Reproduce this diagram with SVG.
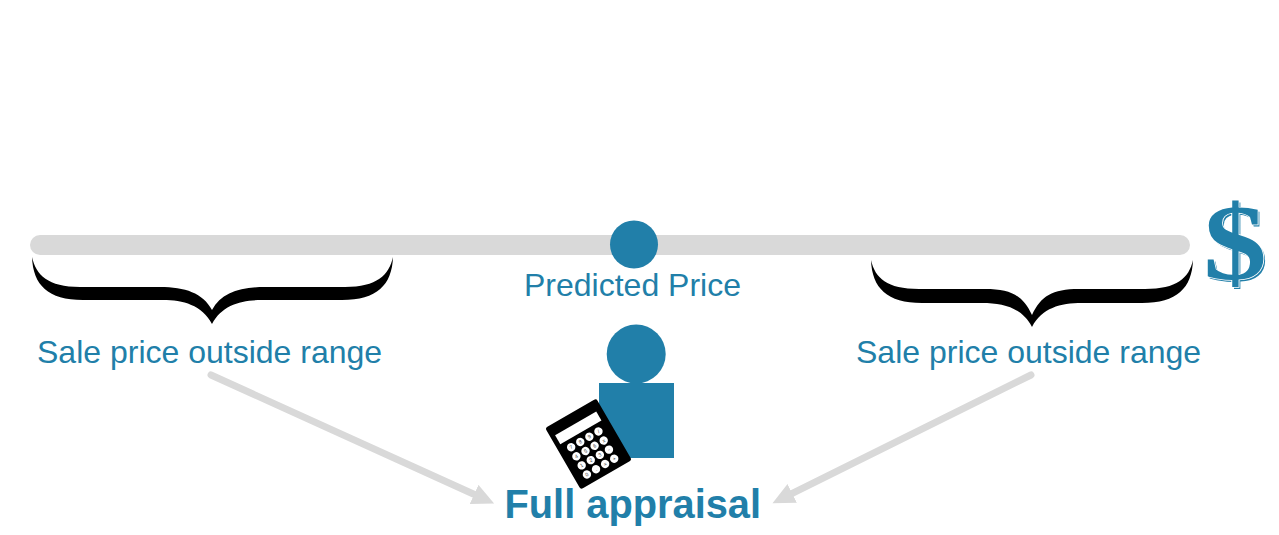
<svg xmlns="http://www.w3.org/2000/svg" width="1279" height="535" viewBox="0 0 1279 535">
<style>
.t{font-family:"Liberation Sans",Arial,sans-serif;font-size:32px;fill:#217fa9}
.b{font-family:"Liberation Sans",Arial,sans-serif;font-size:39.800px;font-weight:700;fill:#217fa9}
.k{fill:#fff}
.d{font-family:"Liberation Sans",Arial,sans-serif;font-size:5px;fill:#333;text-anchor:middle}
.c{fill:none;stroke:#d9d9d9;stroke-width:7;stroke-linecap:round}
.s{font-family:"Liberation Serif",serif;font-size:108px;font-weight:700;text-anchor:middle}
</style>
<defs>
<marker id="ah" markerUnits="userSpaceOnUse" markerWidth="23" markerHeight="22" refX="1" refY="10.500" orient="auto"><path d="M0 0L22 10.500L0 21Z" fill="#d9d9d9"/></marker>
<g id="keys">
<circle class="k" cx="-16.600" cy="-5.900" r="4.200"/><circle class="k" cx="-6.100" cy="-5.900" r="4.200"/><circle class="k" cx="4.400" cy="-5.900" r="4.200"/><circle class="k" cx="14.900" cy="-5.900" r="4.200"/>
<circle class="k" cx="-16.600" cy="4.600" r="4.200"/><circle class="k" cx="-6.100" cy="4.600" r="4.200"/><circle class="k" cx="4.400" cy="4.600" r="4.200"/><circle class="k" cx="14.900" cy="4.600" r="4.200"/>
<circle class="k" cx="-16.600" cy="15.100" r="4.200"/><circle class="k" cx="-6.100" cy="15.100" r="4.200"/><circle class="k" cx="4.400" cy="15.100" r="4.200"/><circle class="k" cx="14.900" cy="15.100" r="4.200"/>
<circle class="k" cx="-16.600" cy="25.600" r="4.200"/><circle class="k" cx="-6.100" cy="25.600" r="4.200"/><circle class="k" cx="4.400" cy="25.600" r="4.200"/><circle class="k" cx="14.900" cy="25.600" r="4.200"/>
<text class="d" x="-16.600" y="-4.200">7</text><text class="d" x="-6.100" y="-4.200">8</text><text class="d" x="4.400" y="-4.200">9</text><text class="d" x="14.900" y="-4.200">/</text>
<text class="d" x="-16.600" y="6.300">4</text><text class="d" x="-6.100" y="6.300">5</text><text class="d" x="4.400" y="6.300">6</text><text class="d" x="14.900" y="6.300">x</text>
<text class="d" x="-16.600" y="16.800">1</text><text class="d" x="-6.100" y="16.800">2</text><text class="d" x="4.400" y="16.800">3</text><text class="d" x="14.900" y="16.800">-</text>
<text class="d" x="-16.600" y="27.300">0</text><text class="d" x="-6.100" y="27.300">.</text><text class="d" x="4.400" y="27.300">=</text><text class="d" x="14.900" y="27.300">+</text>
</g>
</defs>
<rect width="1279" height="535" fill="#fff"/>
<g id="scale-bar"><rect x="30" y="235" width="1160" height="20" rx="10" fill="#d9d9d9"/></g>
<g id="predicted-price"><circle cx="634" cy="244.500" r="24" fill="#217fa9"/><text class="t" x="524" y="296">Predicted Price</text></g>
<g id="dollar" transform="translate(1235,0) scale(1.180,1)">
<text class="s" x="1.500" y="281" fill="#217fa9">$</text>
<text class="s" x="0" y="279" fill="#217fa9" stroke="#fff" stroke-width="1.500" paint-order="stroke">$</text>
</g>
<g id="left-range">
<path d="M32 257C36 275 48 287 80 287L160 287C185 287 203 293 212 310C221 293 240 287 265 287L345 287C377 287 389 275 393 257C392 285 377 300 342 300L262 300C241 300 222 305 212 324C202 305 183 300 163 300L83 300C48 300 33 285 32 257Z"/>
<text class="t" x="37" y="363">Sale price outside range</text>
</g>
<g id="right-range">
<path d="M871 260C875 278 887 289 919 289L985 289C1012 289 1023 296 1032 315C1041 296 1052 289 1079 289L1145 289C1177 289 1189 278 1193 260C1192 288 1177 303 1142 303L1082 303C1060 303 1042 308 1032 327C1022 308 1004 303 982 303L922 303C887 303 872 288 871 260Z"/>
<text class="t" x="856" y="363">Sale price outside range</text>
</g>
<g id="appraiser">
<circle cx="636.200" cy="354" r="29.500" fill="#217fa9"/>
<rect x="599" y="383" width="75" height="75" fill="#217fa9"/>
<g transform="translate(588.500,444) rotate(-30)">
<rect x="-29.500" y="-35.500" width="59" height="71" rx="2.500" fill="#000"/>
<rect x="-24.600" y="-24.200" width="47.500" height="10.400" fill="#fff"/>
<use href="#keys"/>
</g>
</g>
<g id="full-appraisal"><text class="b" x="504.500" y="518">Full appraisal</text></g>
<g id="connectors">
<line class="c" x1="211" y1="375" x2="475" y2="494.800" marker-end="url(#ah)"/>
<line class="c" x1="1031" y1="375" x2="791.300" y2="493.800" marker-end="url(#ah)"/>
</g>
</svg>
